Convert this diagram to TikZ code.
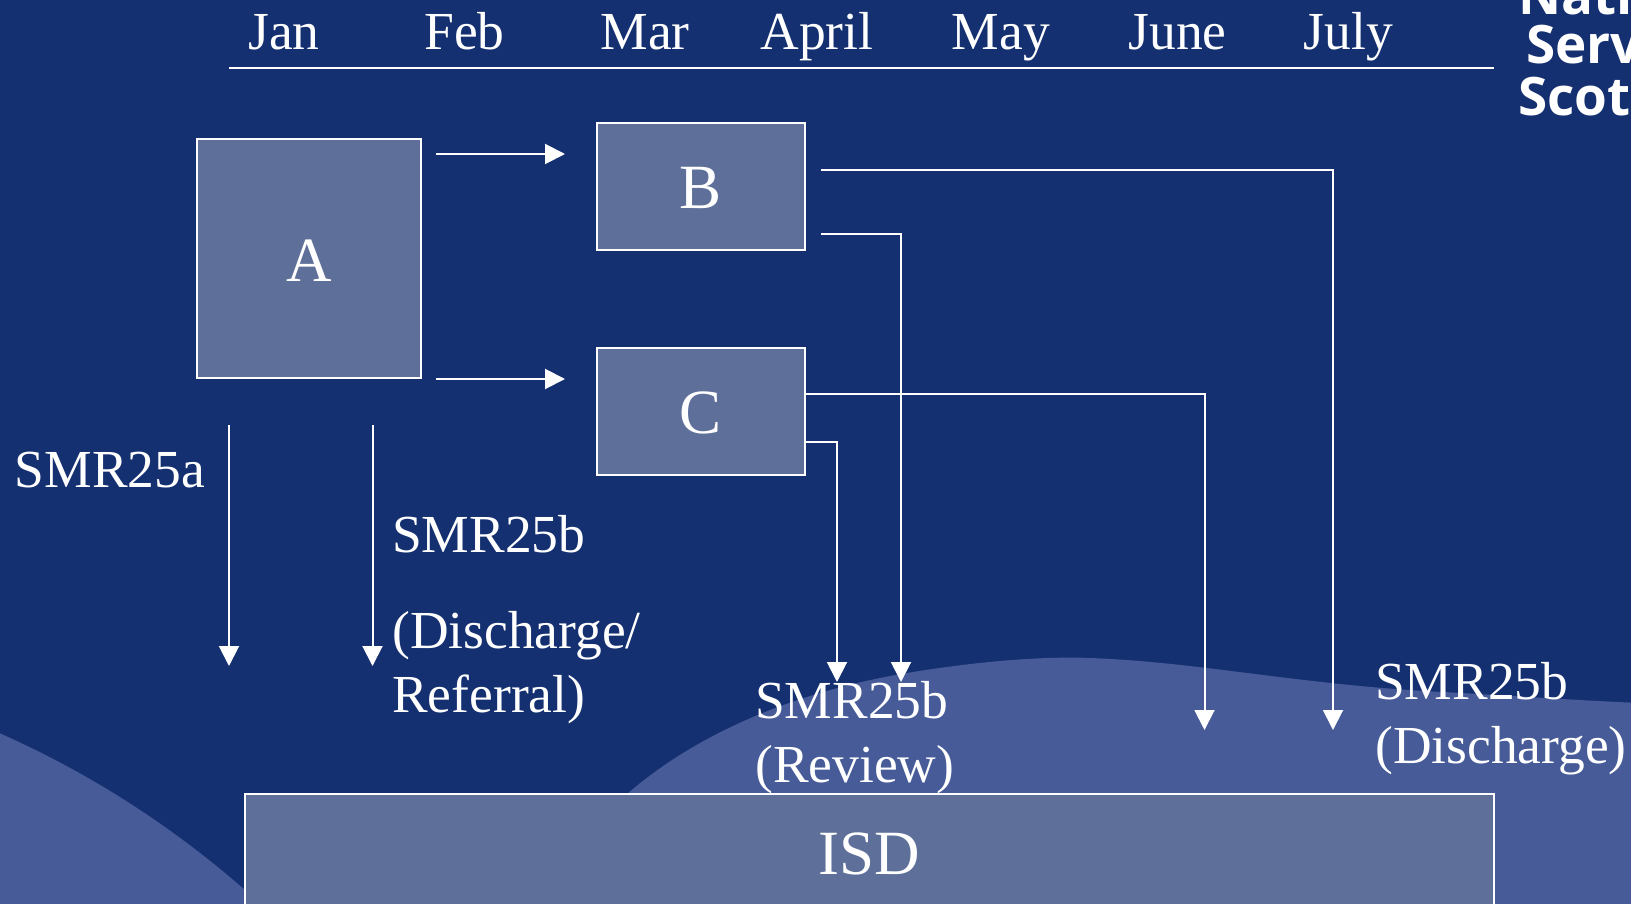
\documentclass[tikz,border=0pt]{standalone}
\usepackage{fontspec}
\setmainfont{Liberation Serif}
\newfontfamily\logofont{Open Sans}
\usetikzlibrary{positioning,arrows.meta}
\definecolor{bgblue}{RGB}{21,48,112}
\definecolor{waveblue}{RGB}{70,91,152}
\definecolor{boxblue}{RGB}{94,112,153}
\tikzset{
  box/.style={draw=white,line width=2pt,fill=boxblue,text=white,inner sep=0pt,
    text height=45pt,text depth=0pt,font=\fontsize{63}{70}\selectfont},
  month/.style={text=white,inner sep=0pt,anchor=base,font=\fontsize{53.5}{64}\selectfont},
  lbl/.style={text=white,inner sep=0pt,anchor=north west,align=left,font=\fontsize{53.5}{64}\selectfont},
  logo/.style={text=white,inner sep=0pt,anchor=base west,font=\logofont\bfseries\fontsize{53}{50}\selectfont},
  flow/.style={draw=white,line width=2pt,-{Triangle[width=20pt,length=20pt]}}
}
\begin{document}
\begin{tikzpicture}[x=1pt,y=-1pt]
        \useasboundingbox (0,0) rectangle (1631,904);
        \clip (0,0) rectangle (1631,904);
        \fill[bgblue] (0,0) rectangle (1631,904);
        % waves
        \fill[waveblue] (-10,729) .. controls (90,772) and (190,835) .. (283,925) -- (-10,925) -- cycle;
        \fill[waveblue] (600,820) .. controls (680,735) and (800,690) .. (913,672)
          .. controls (975,662) and (1040,656) .. (1090,658)
          .. controls (1200,662) and (1300,685) .. (1443,692)
          .. controls (1500,695) and (1570,700) .. (1640,703) -- (1640,925) -- (600,925) -- cycle;

        % months
        \node[month] (jan) at (284,50) {Jan};
        \node[month] (feb) at (464.5,50) {Feb};
        \node[month] (mar) at (645,50) {Mar};
        \node[month] (apr) at (817,50) {April};
        \node[month] (may) at (1001,50) {May};
        \node[month] (jun) at (1177.5,50) {June};
        \node[month] (jul) at (1348.5,50) {July};
        \coordinate (t_0) at (229,68);
        \coordinate (t_1) at (1494,68);
        \draw[white,line width=2pt] (t_0) -- (t_1);

        % logo
        \node[logo] (l_0) at (1518,15) {Nati};
        \node[logo] (l_1) at (1526,64) {Serv};
        \node[logo] (l_2) at (1518,116) {Scot};

        % boxes
        \node[box,minimum width=224pt,minimum height=239pt] (A) at (309,258.5) {A};
        \node[box,minimum width=208pt,minimum height=127pt] (B) at (701,186.5) {B};
        \node[box,minimum width=208pt,minimum height=127pt] (C) [below = 95.5pt of B] {C};
        \node[box,text height=39pt,minimum width=1249pt,minimum height=122pt] (isd) at (869,855) {ISD};

        % labels
        \node[lbl] (a_lbl) at (14.5,452) {SMR25a};
        \node[lbl] (b_lbl) at (392,515) {SMR25b\\[32pt](Discharge/\\Referral)};
        \node[lbl] (r_lbl) at (755,681) {SMR25b\\(Review)};
        \node[lbl] (d_lbl) at (1375,662) {SMR25b\\(Discharge)};

        % free ends of the arrows
        \coordinate (ab_0) at (436,154);
        \coordinate (ab_1) at (565,154);
        \coordinate (ac_0) at (436,379);
        \coordinate (ac_1) at (565,379);
        \coordinate (a_0) at (229,425);
        \coordinate (a_1) at (229,666);
        \coordinate (b_0) at (372.5,425);
        \coordinate (b_1) at (372.5,666);
        \coordinate (j_0) at (821,170.5);
        \coordinate (j_1) at (1333,730);
        \coordinate (k_0) at (821,234.5);
        \coordinate (k_1) at (901,682);
        \coordinate (m_1) at (1204.5,730);
        \coordinate (n_1) at (837,682);

        \draw[flow] (ab_0) -- (ab_1);
        \draw[flow] (ac_0) -- (ac_1);
        \draw[flow] (a_0) -- (a_1);
        \draw[flow] (b_0) -- (b_1);
        \draw[flow] (j_0) -| (j_1);
        \draw[flow] (k_0) -| (k_1);
        \draw[flow] (C.east |- 0,394) -| (m_1);
        \draw[flow] (C.east |- 0,442) -| (n_1);
      \end{tikzpicture}
\end{document}
